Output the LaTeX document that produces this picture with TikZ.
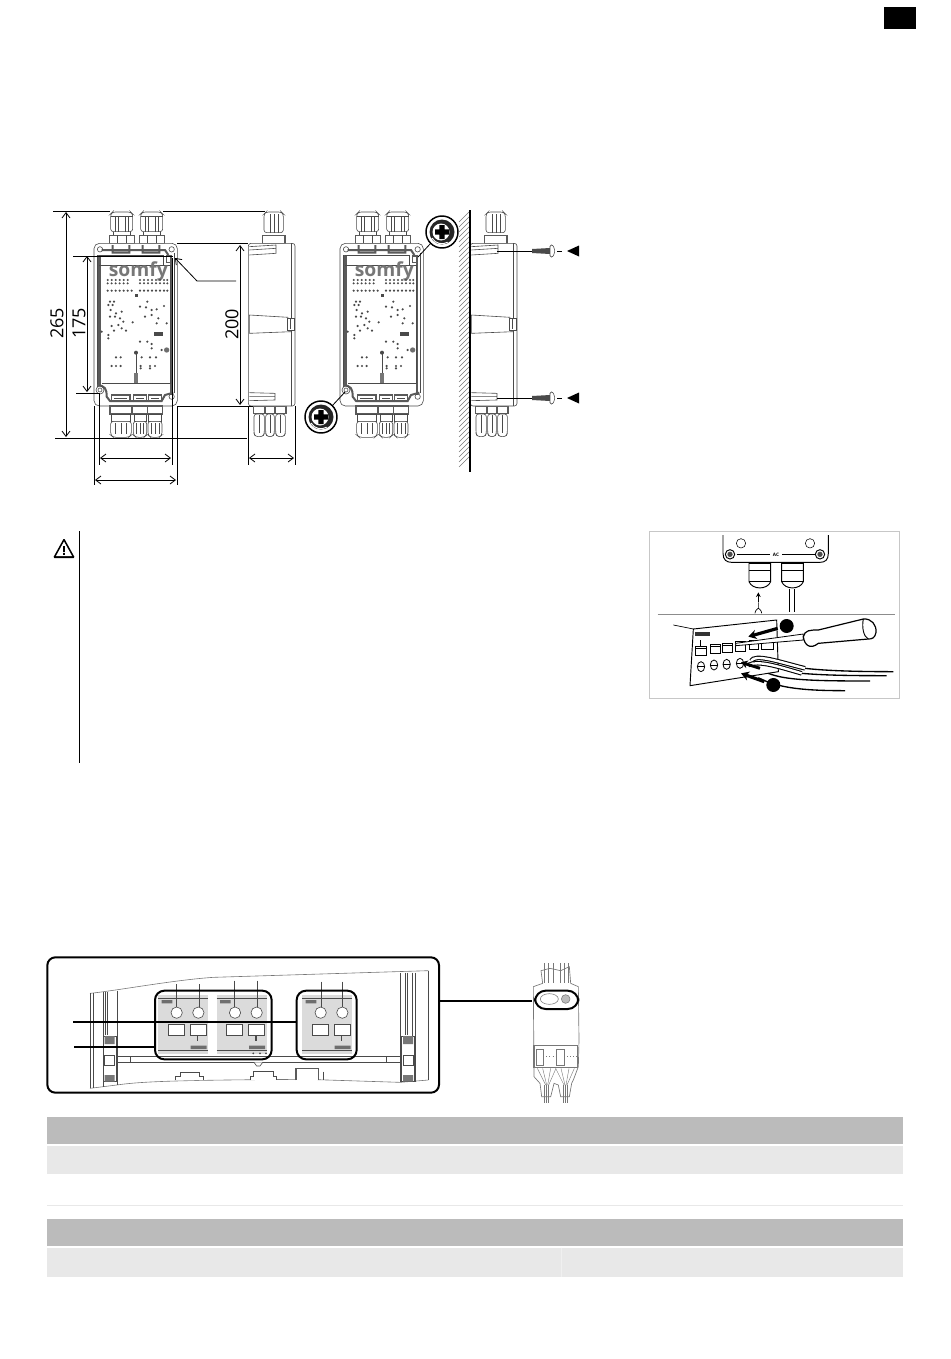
\documentclass[tikz,border=0pt]{standalone}
\usepackage{fontspec}
\setmainfont{Open Sans}
\usetikzlibrary{arrows.meta}
\definecolor{drawgray}{HTML}{4A4A4A}
\definecolor{midgray}{HTML}{777777}
\definecolor{framegray}{HTML}{5A5A5A}
\definecolor{barmid}{HTML}{BBBBBB}
\definecolor{barlight}{HTML}{E8E8E8}
\definecolor{modfill}{HTML}{DBDBDB}
\tikzset{
  thinline/.style={draw=drawgray,line width=.45pt},
  heavyline/.style={draw=framegray,line width=1.5pt},
  darkline/.style={draw=black,line width=1.3pt},
  dimline/.style={draw=black,line width=.6pt},
  dimarrow/.style={dimline,{Straight Barb[length=4pt,width=6pt]}-{Straight Barb[length=4pt,width=6pt]}},
  dimlabel/.style={font=\fontsize{13.5}{14}\selectfont,rotate=90,inner sep=0pt},
  frontbox/.pic={
    \begin{scope}[shift={(40,200)},x=.25pt,y=-.25pt]
    \foreach \gx in {212,302} {
      \draw[thinline,fill=white,rounded corners=2pt] (\gx,42) -- (\gx+6,36) -- (\gx+60,36) -- (\gx+66,42) -- (\gx+66,95) -- (\gx,95) -- cycle;
      \draw[thinline] (\gx+14,48) -- (\gx+14,95) (\gx+24,48) -- (\gx+24,95) (\gx+44,48) -- (\gx+44,95) (\gx+54,48) -- (\gx+54,95) (\gx,48) -- (\gx+66,48);
      \draw[heavyline,line width=.9pt,fill=white] (\gx-4,106) rectangle (\gx+72,130);
      \draw[thinline] (\gx+8,95) -- (\gx+8,106) (\gx+58,95) -- (\gx+58,106) (\gx+20,106) -- (\gx+20,130) (\gx+46,106) -- (\gx+46,130);
    }
    \draw[thinline,fill=white,rounded corners=4pt] (162,130) rectangle (412,618);
    \draw[heavyline,line width=2.6pt] (178,165) -- (178,555);
    \draw[heavyline,line width=1pt] (393,170) -- (393,585);
    \draw[thinline] (172,165) -- (172,560) (402,160) -- (402,580);
    \draw[heavyline] (185,150) -- (375,150) -- (385,165) (218,135) -- (218,158) -- (268,158) -- (268,135) (308,135) -- (308,158) -- (358,158) -- (358,135);
    \draw[thinline] (178,165) -- (370,165) -- (370,195) (178,195) -- (390,195) -- (390,550) -- (185,550);
    \draw[heavyline] (172,555) .. controls (195,558) and (200,565) .. (200,590) -- (210,603) -- (365,603) -- (375,585) -- (400,578);
    \draw[thinline] (180,148) circle (8) (395,148) circle (8) (180,570) circle (12) (180,570) circle (6) (395,590) circle (8);
    \draw[heavyline,line width=.8pt] (380,168) rectangle (395,188);
    \foreach \fx/\fw in {215/55,280/40,325/40} {
      \draw[heavyline,line width=.8pt] (\fx,606) -- (\fx,585) -- (\fx+\fw,585) -- (\fx+\fw,606);
      \draw[thinline] (\fx+8,596) -- (\fx+\fw-8,596);
    }
    \foreach \gx/\gw in {210/66,278/44,322/46} {
      \draw[heavyline,line width=.9pt,fill=white] (\gx,618) rectangle (\gx+\gw,642);
      \draw[thinline,fill=white] (\gx+4,642) rectangle (\gx+\gw-4,664);
      \draw[thinline,fill=white,rounded corners=2pt] (\gx+2,664) -- (\gx+\gw-2,664) -- (\gx+\gw-2,705) -- (\gx+\gw-10,712) -- (\gx+10,712) -- (\gx+2,705) -- cycle;
      \draw[thinline] (\gx+\gw/4,670) -- (\gx+\gw/4,702) (\gx+\gw/2,670) -- (\gx+\gw/2,702) (\gx+3*\gw/4,670) -- (\gx+3*\gw/4,702);
    }
    \node[text=midgray,font=\bfseries\fontsize{14.5}{15}\selectfont,inner sep=0pt] (logo) at (295,213) {somfy};
    \foreach \dy in {240,250} {
      \foreach \dx in {203,215,227,239,251,263,300,312,324,336,348,360,372,382} {\fill[drawgray] (\dx,\dy) circle (3.4);}
    }
    \foreach \dx in {203,215,227,239,251,263,275,300,312,324,336,348,360,372,382} {\fill[drawgray] (\dx,272) circle (3.6);}
    \fill[drawgray] (284,281) rectangle (294,291);
    \foreach \dx/\dy in {210/305,222/305,205/315,218/315,212/330,228/340,245/335,210/350,225/350,240/355,250/365,215/378,235/375,245/385,258/392,222/392,278/367,300/320,322/305,318/322,335/330,350/328,372/318,315/350,335/345,355/355,350/370,380/370,300/425,322/425,335/432,335/445,365/450,228/472,242/472,305/472,330/472,348/472,215/498,228/498,242/498,302/498,302/505,330/498,345/498,330/505,185/395,205/405,205/415} {
      \fill[drawgray] (\dx,\dy) circle (3.6);
    }
    \fill[drawgray] (343,395) rectangle (368,408);
    \fill[drawgray!80] (380,450) circle (8);
    \fill[drawgray] (288,458) circle (6);
    \draw[drawgray,line width=.7pt] (288,458) -- (288,545);
    \fill[midgray] (283,520) rectangle (293,548);
    \end{scope}
  },
  sideview/.pic={
    \begin{scope}[shift={(40,200)},x=.25pt,y=-.25pt]
    \draw[thinline,fill=white,rounded corners=2pt] (672,42) -- (678,36) -- (724,36) -- (730,42) -- (730,98) -- (672,98) -- cycle;
    \draw[thinline] (690,42) -- (690,98) (702,42) -- (702,98) (716,42) -- (716,98);
    \draw[heavyline,line width=.9pt,fill=white] (668,106) rectangle (735,130);
    \foreach \gx/\gw in {640/35,675/30,705/33} {
      \draw[heavyline,line width=.9pt,fill=white] (\gx,618) rectangle (\gx+\gw,640);
      \draw[thinline,fill=white,rounded corners=2pt] (\gx+2,642) -- (\gx+\gw-2,642) -- (\gx+\gw-2,700) -- (\gx+\gw-6,710) -- (\gx+6,710) -- (\gx+2,700) -- cycle;
      \draw[thinline] (\gx+\gw/2,645) -- (\gx+\gw/2,700);
    }
    \draw[thinline,fill=white,rounded corners=2pt] (625,130) rectangle (765,618);
    \draw[thinline] (755,130) -- (755,618);
    \draw[thinline] (628,140) -- (708,135) -- (708,160) -- (628,165) (628,150) -- (708,145);
    \draw[thinline] (628,345) -- (745,352) (628,400) -- (755,395) (628,345) -- (628,400);
    \draw[thinline,fill=white] (742,355) rectangle (762,390);
    \draw[thinline] (750,358) -- (750,388);
    \draw[thinline] (628,578) -- (705,580) -- (705,600) -- (628,602) (628,590) -- (705,590);
    \end{scope}
  },
  screwdetail/.pic={
    \draw[draw=black,line width=1.1pt,fill=white] (0,0) circle (16);
    \fill[black!85] (0,0) circle (12.5);
    \fill[white] (-1,0) circle (8.5);
    \draw[white,line width=.7pt] (-10,6) arc (150:60:11.5);
    \fill[black] (-7,-2.6) rectangle (7,2.6) (-2.6,-7) rectangle (2.6,7);
  },
  woodscrew/.pic={
    \draw[dimline] (-53,0) -- (-18,0);
    \fill[drawgray] (-18,-2) -- (0,-3) -- (0,3) -- (-18,2) -- cycle;
    \draw[thinline,fill=white,rounded corners=1pt] (0,-6) -- (3,-6) -- (5,0) -- (3,6) -- (0,6) -- cycle;
    \draw[dimline] (7,0) -- (12,0);
    \fill[black] (17,0) -- (29,-5.5) -- (29,5.5) -- cycle;
  },
  gmodule/.pic={
    \draw[fill=modfill,draw=none] (0,0) rectangle (150,177);
    \draw[thinline] (0,10) -- (150,10) (0,165) -- (150,165);
    \draw[thinline,fill=white] (55,53) circle (17) (120,53) circle (17);
    \draw[thinline,fill=white] (30,87) rectangle (78,120) (95,87) rectangle (143,120);
    \fill[drawgray!80] (10,15) rectangle (42,25) (97,152) rectangle (145,162);
    \fill[drawgray] (116,124) rectangle (120,138);
  },
}
\begin{document}
\begin{tikzpicture}[x=.75pt,y=-.75pt]
\useasboundingbox (0,0) rectangle (950,1359);
\fill[black] (883.5,7.5) rectangle (916,29.5);
\pic at (0,0) {frontbox};
\pic at (246,0) {frontbox};
\pic at (0,0) {sideview};
\pic at (222,0) {sideview};
\coordinate (topl) at (53,211);
\coordinate (topm) at (110,211);
\coordinate (topn) at (163,211);
\coordinate (topr) at (265,211);
\coordinate (botl) at (55,438);
\coordinate (botr) at (247,438);
\draw[dimline] (topl) -- (topm) (topn) -- (topr) (botl) -- (botr);
\draw[dimline] (73,256) -- (173,256) (76,393) -- (100,393);
\draw[dimline] (177,243) -- (248,243) (177,406) -- (253,406);
\draw[dimarrow] (66,212) -- (66,437);
\draw[dimarrow] (87,256) -- (87,392);
\draw[dimarrow] (240,245) -- (240,405);
\node[dimlabel] (dimA) at (57,323.5) {265};
\node[dimlabel] (dimB) at (79,323.5) {175};
\node[dimlabel] (dimC) at (232,324.5) {200};
\coordinate (leadA) at (175,258);
\coordinate (leadB) at (197,281);
\coordinate (leadC) at (236,281);
\draw[dimline,{Straight Barb[length=4pt,width=6pt]}-] (leadA) -- (leadB) -- (leadC);
\draw[dimline] (99,393) -- (99,465) (172,258) -- (172,465) (94,406) -- (94,485) (177,406) -- (177,485);
\draw[dimarrow] (100,458) -- (171,458);
\draw[dimarrow] (95,480) -- (176,480);
\draw[dimline] (248,406) -- (248,465) (295,406) -- (295,465);
\draw[dimarrow] (249,458) -- (294,458);
\foreach \hy in {222,227,...,468} {\draw[midgray,line width=.35pt] (459,\hy) -- (470,\hy-11);}
\draw[black,line width=1.5pt] (470,210) -- (470,472);
\pic at (550,251) {woodscrew};
\pic at (550,398) {woodscrew};
\coordinate (detA) at (418,257);
\coordinate (detB) at (345,392);
\draw[dimline] (detA) -- (431,243);
\draw[dimline] (detB) -- (332,406);
\pic at (442,232) {screwdetail};
\pic at (321,417) {screwdetail};
\fill[black,rounded corners=1pt] (53,558) -- (75,558) -- (64,538) -- cycle;
\fill[white] (56,556) -- (72,556) -- (64,541.5) -- cycle;
\fill[black] (63.2,546) rectangle (64.8,552) (63.2,553) rectangle (64.8,554.8);
\draw[black,line width=.7pt] (79,531) -- (79,763);
\draw[draw=black!22,line width=.7pt] (649,531) rectangle (899,698);
\begin{scope}[shift={(645,525)},x=.25pt,y=-.25pt]
\draw[black,line width=.7pt] (234,30) -- (234,85) .. controls (234,105) and (245,112) .. (260,112) -- (525,112) .. controls (540,112) and (550,105) .. (550,85) -- (550,30);
\draw[black,line width=.9pt] (275,88) -- (375,88) (412,88) -- (510,88);
\node[font=\bfseries\fontsize{3.5}{3.5}\selectfont,inner sep=0pt] (acmark) at (393,88) {AC};
\draw[black,line width=.4pt] (288,55) circle (14) (495,55) circle (14);
\draw[black,line width=.7pt] (255,88) circle (14) (525,88) circle (14);
\fill[black!70] (255,88) circle (8) (525,88) circle (8);
\foreach \gx in {312,410} {
  \draw[black,line width=.7pt,fill=white] (\gx,115) -- (\gx,170) .. controls (\gx+10,195) and (\gx+55,195) .. (\gx+65,170) -- (\gx+65,115) -- cycle;
  \draw[black,line width=.7pt] (\gx,135) -- (\gx+65,135);
  \draw[black,line width=.4pt] (\gx,170) -- (\gx+65,170);
}
\draw[black,line width=.8pt] (433,192) -- (433,260) (448,192) -- (448,260);
\draw[black,line width=.8pt,-{Stealth[length=3.5pt,width=3.5pt]}] (340,232) -- (340,202);
\draw[black,line width=.5pt] (340,232) -- (340,250) (330,265) .. controls (330,255) and (340,250) .. (340,250) .. controls (340,250) and (350,255) .. (350,265);
\draw[black!45,line width=.5pt] (38,268) -- (750,268);
\draw[black,line width=.5pt] (85,300) -- (145,312);
\draw[black,line width=.7pt,fill=white] (145,312) -- (395,285) -- (400,440) -- (135,482) -- cycle;
\fill[black!80] (150,322) rectangle (195,334);
\draw[black,line width=.6pt] (165,345) -- (165,362);
\foreach \sqx/\sqy/\sqw/\sqh in {150/365/35/27,195/358/30/28,232/355/30/28,272/348/30/30,312/345/28/28,350/345/35/28} {
  \draw[black,line width=.6pt] (\sqx,\sqy) rectangle (\sqx+\sqw,\sqy+\sqh);
  \draw[black,line width=.4pt] (\sqx,\sqy+6) -- (\sqx+\sqw,\sqy+6);
}
\foreach \ovx/\ovy in {168/425,207/420,245/418,285/415} {
  \draw[black,line width=.6pt] (\ovx,\ovy) ellipse (11 and 15);
  \draw[black,line width=.4pt] (\ovx-11,\ovy) -- (\ovx+11,\ovy);
}
\draw[black,line width=.6pt,fill=white] (272,355) -- (475,327) -- (475,345) -- (272,362) -- cycle;
\draw[black,line width=.9pt,fill=white] (475,335) .. controls (480,315) and (495,315) .. (520,315) -- (655,282) .. controls (680,280) and (695,300) .. (693,322) .. controls (690,340) and (680,342) .. (670,342) -- (520,355) .. controls (495,375) and (478,360) .. (475,335) -- cycle;
\draw[black,line width=.7pt] (655,282) .. controls (650,305) and (655,335) .. (670,342);
\fill[black] (425,303) circle (21);
\fill[black] (385,480) circle (21);
\draw[black,line width=2.4pt,-{Stealth[length=6pt,width=7pt]}] (398,310) -- (310,335);
\draw[black,line width=1pt] (480,430) .. controls (550,438) and (650,440) .. (745,440);
\draw[black,line width=1pt] (470,445) .. controls (550,452) and (650,452) .. (725,452);
\draw[black,line width=1pt] (370,445) .. controls (420,465) and (500,468) .. (675,468);
\draw[black,line width=1pt] (340,458) .. controls (400,490) and (480,497) .. (600,497);
\draw[black,line width=.8pt,double=white,double distance=1.8pt] (318,408) .. controls (330,385) and (400,410) .. (480,430);
\draw[black,line width=.8pt,double=white,double distance=1.8pt] (310,420) .. controls (340,405) and (400,425) .. (470,445);
\draw[black,line width=2.2pt,-{Stealth[length=5pt,width=6pt]}] (345,430) -- (288,412);
\draw[black,line width=2.4pt,-{Stealth[length=6pt,width=7pt]}] (358,470) -- (288,445);
\end{scope}
\begin{scope}[shift={(40,950)},x=.25pt,y=-.25pt]
\draw[black,line width=1.5pt,rounded corners=6pt] (22,22) rectangle (1197,428);
\draw[thinline,draw=midgray] (150,130) .. controls (230,122) and (400,90) .. (520,82) -- (1165,62);
\draw[thinline,draw=midgray] (150,415) -- (230,405) .. controls (300,395) and (400,390) .. (800,388) -- (1080,397) -- (1165,390);
\draw[thinline] (150,130) -- (150,415) (160,130) -- (160,415) (190,125) -- (190,410) (232,122) -- (232,405);
\draw[thinline] (1080,70) -- (1080,395) (1118,68) -- (1118,395) (1125,68) -- (1125,395) (1165,62) -- (1165,390);
\draw[thinline,line width=.7pt] (196,125) -- (196,255) (202,125) -- (202,255) (1096,68) -- (1096,255) (1102,68) -- (1102,255);
\foreach \cx in {190,1085} {
  \draw[thinline,fill=white] (\cx,258) rectangle (\cx+38,395);
  \fill[midgray] (\cx+4,258) rectangle (\cx+34,282) (\cx+4,375) rectangle (\cx+34,395);
  \draw[thinline,line width=.7pt] (\cx+4,315) rectangle (\cx+34,345);
}
\draw[thinline] (232,318) -- (1085,318) (232,337) -- (1085,337) (272,318) -- (272,337) (1040,318) -- (1040,337);
\draw[thinline,fill=white] (405,390) -- (405,378) -- (420,378) -- (420,368) -- (478,368) -- (478,378) -- (490,378) -- (490,390);
\draw[thinline,fill=white] (630,390) -- (630,378) -- (640,378) -- (640,365) -- (700,365) -- (700,378) -- (710,378) -- (710,390);
\draw[heavyline,line width=.8pt,fill=white] (768,390) -- (768,355) -- (835,355) -- (835,390);
\draw[thinline] (850,365) -- (850,390);
\draw[thinline,fill=white] (642,337) -- (650,348) -- (660,348) -- (668,337);
\pic at (355,135) {gmodule};
\pic at (530,135) {gmodule};
\pic at (787,135) {gmodule};
\foreach \lx/\ly in {410/102,477/102,584/92,651/92,843/95,907/95} {\draw[thinline] (\lx,\ly) -- (\lx,172);}
\fill[drawgray] (640,310) circle (3) (660,310) circle (3) (678,310) circle (3);
\draw[black,line width=1.5pt,rounded corners=7pt] (345,122) rectangle (695,328);
\draw[black,line width=1.5pt,rounded corners=7pt] (770,122) rectangle (950,328);
\coordinate (feedA) at (100,215);
\coordinate (feedB) at (770,215);
\coordinate (feedC) at (102,292);
\coordinate (feedD) at (345,292);
\draw[black,line width=1.3pt] (feedA) -- (feedB);
\draw[black,line width=1.3pt] (feedC) -- (feedD);
\end{scope}
\coordinate (linkA) at (439,1000.7);
\coordinate (linkB) at (531.7,1000.7);
\draw[black,line width=1.3pt] (linkA) -- (linkB);
\begin{scope}[shift={(430,950)},x=.25pt,y=-.25pt]
\draw[draw=midgray,line width=.5pt,fill=white] (338,100) -- (333,62) -- (360,55) -- (392,62) -- (418,50) -- (422,100) -- (445,110) -- (447,270) -- (445,350) -- (430,390) -- (425,400) -- (418,440) -- (392,440) -- (385,405) -- (372,400) -- (362,440) -- (335,440) -- (330,400) -- (312,380) -- (310,110) -- cycle;
\foreach \wx in {342,356,370,392,404,416} {\draw[draw=midgray,line width=.3pt] (\wx,40) -- (\wx,100);}
\foreach \wx in {350,405} {
  \draw[draw=midgray,line width=.3pt] (\wx-28,355) -- (\wx-3,405) (\wx-12,355) -- (\wx,405) (\wx+12,355) -- (\wx+3,405) (\wx+28,355) -- (\wx+6,405);
  \draw[draw=midgray,line width=.3pt] (\wx-6,405) -- (\wx-6,460) (\wx,405) -- (\wx,460) (\wx+6,405) -- (\wx+6,460);
}
\draw[draw=midgray,line width=1pt,fill=white] (312,287) rectangle (442,352);
\foreach \tx in {318,380} {\draw[draw=midgray,line width=.6pt,fill=white] (\tx,298) rectangle (\tx+22,345);}
\draw[draw=midgray,line width=.3pt,dotted] (340,320) -- (380,320) (402,320) -- (440,320) (312,305) -- (318,305);
\draw[black,line width=1.5pt,rounded corners=8pt,fill=white] (315,122) rectangle (445,177);
\draw[draw=midgray,line width=.4pt] (358,147) ellipse (27 and 16);
\draw[draw=midgray,fill=barmid,line width=.4pt] (407,147) circle (13);
\end{scope}
\fill[barmid] (47,1117) rectangle (903,1144);
\fill[barlight] (47,1145.5) rectangle (903,1174);
\draw[draw=barlight,line width=.7pt] (47,1205) -- (903,1205);
\fill[barmid] (47,1219) rectangle (903,1246);
\fill[barlight] (47,1247.5) rectangle (903,1277);
\draw[draw=black!6,line width=.5pt] (561,1247.5) -- (561,1277);
\end{tikzpicture}
\end{document}
